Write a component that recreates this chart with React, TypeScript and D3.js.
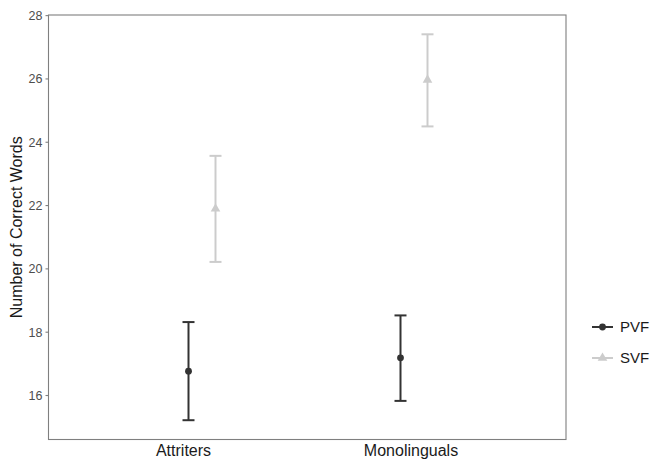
import React from 'react'
import * as d3 from 'd3'

const categories = ['Attriters', 'Monolinguals']
const groups = ['PVF', 'SVF']
const pvfMean = [16.77, 17.19]
const pvfLow = [15.22, 15.83]
const pvfHigh = [18.32, 18.53]
const svfMean = [21.9, 25.97]
const svfLow = [20.22, 24.5]
const svfHigh = [23.57, 27.41]
const yTicks = [16, 18, 20, 22, 24, 26, 28]

const colors = { PVF: '#333333', SVF: '#cccccc' }

const W = 668
const H = 460
const panel = { left: 48.5, right: 566, top: 15, bottom: 439.5 }

const App = () => {
  const all = [...pvfLow, ...pvfHigh, ...svfLow, ...svfHigh]
  const lo = d3.min(all) as number
  const hi = d3.max(all) as number
  const pad = (hi - lo) * 0.05

  const y = d3
    .scaleLinear()
    .domain([lo - pad, hi + pad])
    .range([panel.bottom, panel.top])

  // category position = PVF point; SVF dodged to the right
  const x = d3.scalePoint().domain(categories).range([188.5, 400.5])
  const dodge = 27

  const series = [
    { key: 'PVF', mean: pvfMean, low: pvfLow, high: pvfHigh, off: 0 },
    { key: 'SVF', mean: svfMean, low: svfLow, high: svfHigh, off: dodge }
  ]

  const tri = d3.symbol().type(d3.symbolTriangle).size(40)

  return (
    <svg width={W} height={H} style={{ position: 'absolute', left: 0, top: 0 }}
      fontFamily="Liberation Sans, Arial, sans-serif">
      <rect width={W} height={H} fill="#fff" />
      {series.map(s => (
        <g key={s.key} stroke={colors[s.key]} fill={colors[s.key]}>
          {categories.map((c, i) => {
            const cx = (x(c) as number) + s.off
            return (
              <g key={c}>
                <line x1={cx} x2={cx} y1={y(s.low[i])} y2={y(s.high[i])} strokeWidth={2} />
                <line x1={cx - 6} x2={cx + 6} y1={y(s.low[i])} y2={y(s.low[i])} strokeWidth={2} />
                <line x1={cx - 6} x2={cx + 6} y1={y(s.high[i])} y2={y(s.high[i])} strokeWidth={2} />
                {s.key === 'PVF' ? (
                  <circle cx={cx} cy={y(s.mean[i])} r={3.4} stroke="none" />
                ) : (
                  <path d={tri() as string} transform={`translate(${cx},${y(s.mean[i])})`} stroke="none" />
                )}
              </g>
            )
          })}
        </g>
      ))}

      <rect x={panel.left} y={panel.top} width={panel.right - panel.left}
        height={panel.bottom - panel.top} fill="none" stroke="#7f7f7f" strokeWidth={1.1} />

      {yTicks.map(t => (
        <g key={t}>
          <line x1={panel.left - 3} x2={panel.left} y1={y(t)} y2={y(t)} stroke="#7f7f7f" strokeWidth={1.1} />
          <text x={panel.left - 6} y={y(t)} dy="0.36em" textAnchor="end" fontSize={12.5} fill="#4d4d4d">{t}</text>
        </g>
      ))}

      {categories.map((c, i) => (
        <text key={c} x={(x(c) as number) + dodge / 2 + (i === 0 ? -18.5 : -3)} y={panel.bottom + 16}
          textAnchor="middle" fontSize={16} fill="#1a1a1a">{c}</text>
      ))}

      <text transform={`translate(22,${(panel.top + panel.bottom) / 2}) rotate(-90)`}
        textAnchor="middle" fontSize={16} fill="#1a1a1a">Number of Correct Words</text>

      {groups.map((g, i) => {
        const ly = 327 + i * 31
        return (
          <g key={g}>
            <line x1={592} x2={613} y1={ly} y2={ly} stroke={colors[g]} strokeWidth={2} />
            {g === 'PVF' ? (
              <circle cx={602.5} cy={ly} r={3.4} fill={colors[g]} />
            ) : (
              <path d={tri() as string} transform={`translate(602.5,${ly})`} fill={colors[g]} />
            )}
            <text x={620} y={ly} dy="0.36em" fontSize={15} fill="#1a1a1a">{g}</text>
          </g>
        )
      })}
    </svg>
  )
}

export default App
